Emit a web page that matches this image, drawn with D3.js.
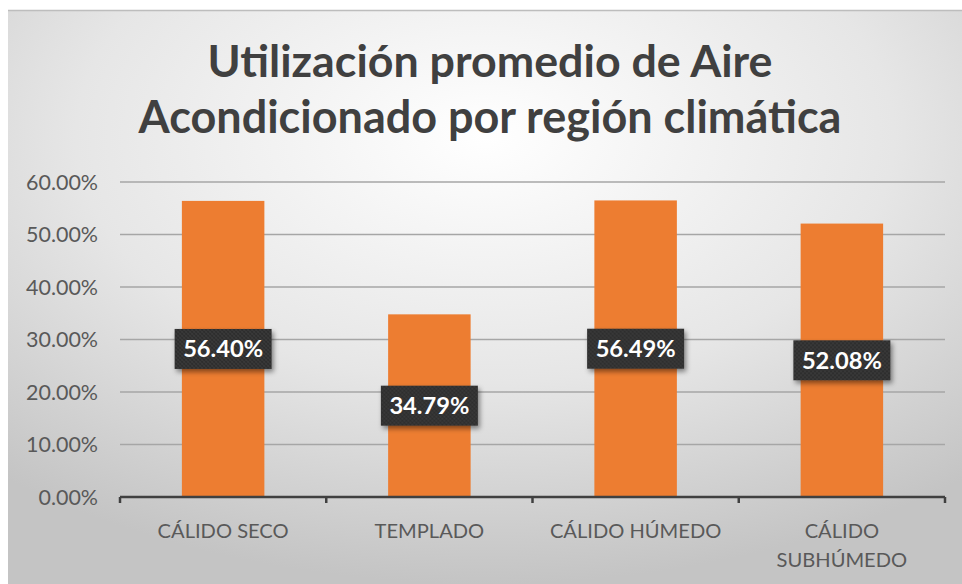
<!DOCTYPE html>
<html>
<head>
<meta charset="utf-8">
<script src="https://cdn.jsdelivr.net/npm/d3@7"></script>
<style>
  html, body { margin: 0; padding: 0; background: #fff; }
  svg text { font-family: Lato, "Open Sans", sans-serif; }
</style>
</head>
<body>
<div id="chart"></div>
<script>
// data
const categories = ["CÁLIDO SECO", "TEMPLADO", "CÁLIDO HÚMEDO", "CÁLIDO SUBHÚMEDO"];
const values = [0.5640, 0.3479, 0.5649, 0.5208];
const yTicks = [0, 0.1, 0.2, 0.3, 0.4, 0.5, 0.6];
const titleLines = ["Utilización promedio de Aire", "Acondicionado por región climática"];

const W = 962, H = 584;
const plot = { left: 120, right: 945, top: 182, bottom: 497 };

const svg = d3.select("#chart").append("svg")
  .attr("width", W)
  .attr("height", H);

const defs = svg.append("defs");

// background gradient, white near the title, grey at the edges
const grad = defs.append("radialGradient")
  .attr("id", "bg")
  .attr("cx", "50%").attr("cy", "22%").attr("r", "78%")
  .attr("fx", "50%").attr("fy", "22%");
grad.append("stop").attr("offset", "0%").attr("stop-color", "#ffffff");
grad.append("stop").attr("offset", "55%").attr("stop-color", "#e6e6e6");
grad.append("stop").attr("offset", "100%").attr("stop-color", "#c4c4c4");

// dotted pattern for the label boxes
const pat = defs.append("pattern")
  .attr("id", "dots")
  .attr("width", 4).attr("height", 4)
  .attr("patternUnits", "userSpaceOnUse");
pat.append("rect").attr("width", 4).attr("height", 4).attr("fill", "#2e2e2e");
pat.append("circle").attr("cx", 1).attr("cy", 1).attr("r", 0.7).attr("fill", "#4a4a4a");
pat.append("circle").attr("cx", 3).attr("cy", 3).attr("r", 0.7).attr("fill", "#4a4a4a");

const shadow = defs.append("filter").attr("id", "shadow")
  .attr("x", "-20%").attr("y", "-30%").attr("width", "150%").attr("height", "180%");
shadow.append("feDropShadow")
  .attr("dx", 2).attr("dy", 3).attr("stdDeviation", 2.5)
  .attr("flood-color", "#000").attr("flood-opacity", 0.45);

svg.append("rect")
  .attr("x", 8).attr("y", 10)
  .attr("width", W - 8).attr("height", H - 10)
  .attr("fill", "url(#bg)");
svg.append("line")
  .attr("x1", 8).attr("x2", W).attr("y1", 10.5).attr("y2", 10.5)
  .attr("stroke", "#bdbdbd").attr("stroke-width", 1.5);

// helper: font size that gives a text a target width
const fitSize = (sel, target) => {
  const fs = parseFloat(sel.attr("font-size"));
  const w = sel.node().getComputedTextLength();
  return +(fs * target / w).toFixed(2);
};

// --- title ---
const titleWidths = [565, 703];
const titleY = [77, 133];
titleLines.forEach((t, i) => {
  const tx = svg.append("text")
    .attr("x", 490)
    .attr("y", titleY[i])
    .attr("text-anchor", "middle")
    .attr("font-size", 42)
    .attr("font-weight", "bold")
    .attr("fill", "#404040")
    .text(t);
  tx.attr("font-size", fitSize(tx, titleWidths[i]));
});

// --- scales ---
const x = d3.scaleBand()
  .domain(categories)
  .range([plot.left, plot.right])
  .paddingInner(0.6)
  .paddingOuter(0.3);

const y = d3.scaleLinear()
  .domain([0, 0.6])
  .range([plot.bottom, plot.top]);

// gridlines
svg.append("g")
  .selectAll("line")
  .data(yTicks.filter(d => d > 0))
  .join("line")
    .attr("x1", plot.left)
    .attr("x2", plot.right)
    .attr("y1", d => y(d))
    .attr("y2", d => y(d))
    .attr("stroke", "#a6a6a6")
    .attr("stroke-width", 1.5);

// y labels
const yLab = svg.append("g")
  .selectAll("text")
  .data(yTicks)
  .join("text")
    .attr("x", 98)
    .attr("y", d => y(d))
    .attr("dy", "0.36em")
    .attr("text-anchor", "end")
    .attr("font-size", 18)
    .attr("fill", "#595959")
    .text(d => d3.format(".2%")(d));
// match width of "60.00%"
yLab.attr("font-size", fitSize(d3.select(yLab.nodes()[yLab.size() - 1]), 72));

// bars
svg.append("g")
  .selectAll("rect")
  .data(values)
  .join("rect")
    .attr("x", (d, i) => x(categories[i]))
    .attr("y", d => y(d))
    .attr("width", x.bandwidth())
    .attr("height", d => y(0) - y(d))
    .attr("fill", "#ED7D31");

// x axis line with ticks at band boundaries
const step = x.step();
const bounds = d3.range(categories.length + 1).map(i => plot.left + i * step);
svg.append("line")
  .attr("x1", plot.left).attr("x2", plot.right)
  .attr("y1", y(0)).attr("y2", y(0))
  .attr("stroke", "#404040").attr("stroke-width", 2.5);
svg.append("g")
  .selectAll("line")
  .data(bounds)
  .join("line")
    .attr("x1", d => d).attr("x2", d => d)
    .attr("y1", y(0)).attr("y2", y(0) + 6)
    .attr("stroke", "#404040").attr("stroke-width", 2.5);

// category labels, wrapped when wider than the band
const catG = svg.append("g");
const probe = catG.append("text").attr("font-size", 17).text(categories[0]);
const catFs = fitSize(probe, 131);   // "CÁLIDO SECO" is ~131px wide
probe.remove();
categories.forEach(c => {
  const cx = x(c) + x.bandwidth() / 2;
  const t = catG.append("text")
    .attr("x", cx)
    .attr("y", 538)
    .attr("text-anchor", "middle")
    .attr("font-size", catFs)
    .attr("fill", "#595959")
    .text(c);
  if (t.node().getComputedTextLength() > step * 0.92) {
    const words = c.split(" ");
    t.text(null);
    words.forEach((w, k) => {
      t.append("tspan").attr("x", cx).attr("dy", k === 0 ? 0 : 29).text(w);
    });
  }
});

// data labels: dark boxes at bar middle
const boxW = 97, boxH = 40;
const lab = svg.append("g")
  .selectAll("g")
  .data(values)
  .join("g")
    .attr("transform", (d, i) =>
      `translate(${x(categories[i]) + x.bandwidth() / 2},${(y(d) + y(0)) / 2})`);
lab.append("rect")
  .attr("x", -boxW / 2)
  .attr("y", -boxH / 2)
  .attr("width", boxW)
  .attr("height", boxH)
  .attr("fill", "url(#dots)")
  .attr("filter", "url(#shadow)");
const labTxt = lab.append("text")
  .attr("text-anchor", "middle")
  .attr("dy", "0.36em")
  .attr("font-size", 21)
  .attr("font-weight", "bold")
  .attr("fill", "#ffffff")
  .text(d => d3.format(".2%")(d));
labTxt.attr("font-size", fitSize(d3.select(labTxt.node()), 80));
</script>
</body>
</html>
